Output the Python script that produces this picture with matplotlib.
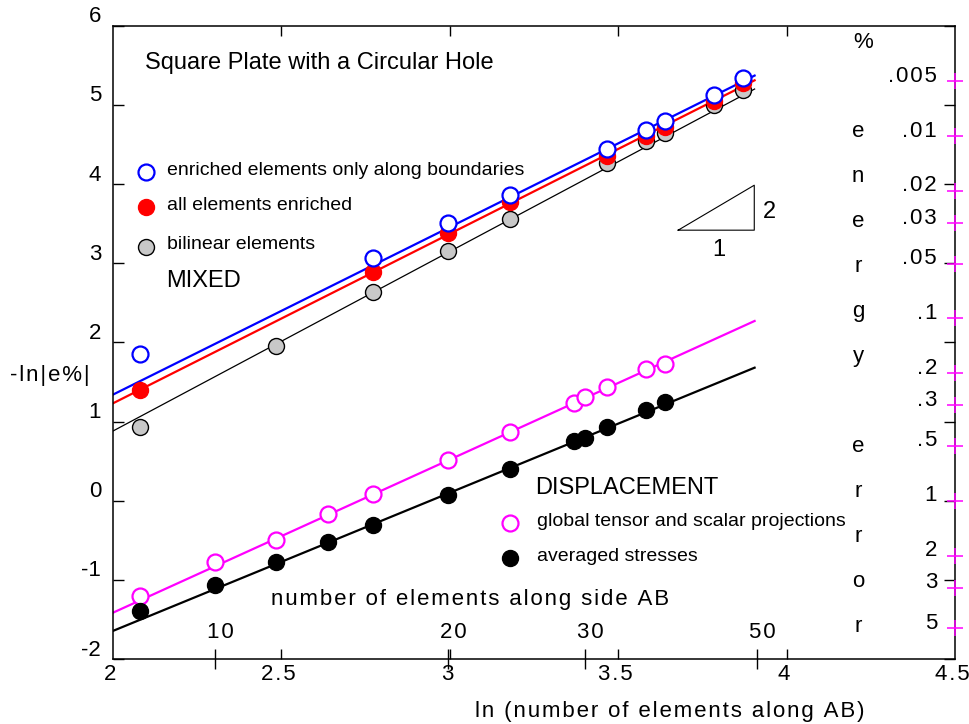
import numpy as np
import matplotlib
matplotlib.use("Agg")
import matplotlib.pyplot as plt

plt.rcParams['font.family'] = ['Liberation Sans', 'DejaVu Sans']

# MIXED results (x = ln N)
n_mixed = [8, 16, 20, 24, 32, 36, 38, 44, 48]
blue_y = [1.85, 3.07, 3.51, 3.86, 4.44, 4.68, 4.80, 5.12, 5.34]
red_y = [1.40, 2.89, 3.38, 3.77, 4.35, 4.61, 4.72, 5.05, 5.27]
n_gray = [8, 12, 16, 20, 24, 32, 36, 38, 44, 48]
gray_y = [0.93, 1.96, 2.64, 3.16, 3.56, 4.27, 4.54, 4.65, 5.00, 5.19]

# DISPLACEMENT results
n_disp = [8, 10, 12, 14, 16, 20, 24, 29, 30, 32, 36, 38]
mag_y = [-1.20, -0.78, -0.50, -0.17, 0.09, 0.52, 0.87, 1.24, 1.31, 1.43, 1.66, 1.73]
blk_y = [-1.39, -1.06, -0.78, -0.52, -0.31, 0.07, 0.40, 0.76, 0.79, 0.93, 1.15, 1.25]

# fitted lines (end points)
fit_x = [2.0, 3.905]
blue_fit = [1.34, 5.37]
red_fit = [1.23, 5.31]
gray_fit = [0.88, 5.20]
mag_fit = [-1.415, 2.27]
blk_fit = [-1.645, 1.68]

# slope triangle
tri_x = [3.678, 3.904, 3.904, 3.678]
tri_y = [3.417, 3.417, 3.985, 3.417]

xticks = [2, 2.5, 3, 3.5, 4, 4.5]
xtick_labels = ["2", "2.5", "3", "3.5", "4", "4.5"]
yticks = [-2, -1, 0, 1, 2, 3, 4, 5, 6]
n_ticks = [10, 20, 30, 50]
err_pct = [0.005, 0.01, 0.02, 0.03, 0.05, 0.1, 0.2, 0.3, 0.5, 1, 2, 3, 5]
err_labels = [".005", ".01", ".02", ".03", ".05", ".1", ".2", ".3", ".5", "1", "2", "3", "5"]


def spaced(s):
    return "\u200a".join(s)


fig = plt.figure(figsize=(9.69, 7.24), dpi=100)
ax = fig.add_axes([113 / 969, 1 - 659 / 724, 842 / 969, 633.3 / 724])
ax.set_xlim(2, 4.5)
ax.set_ylim(-2, 6)
for sp in ax.spines.values():
    sp.set_linewidth(1.1)

ax.set_xticks(xticks[1:-1])
ax.set_yticks(yticks)
ax.tick_params(axis='x', direction='in', length=7, width=1, top=True, labelbottom=False)
ax.tick_params(axis='y', direction='in', length=8, width=1, right=True, labelleft=False)

tsize = 16
for v, lab in zip(xticks, xtick_labels):
    ax.annotate(spaced(lab), (v, -2), xytext=(-3, -15), textcoords='offset pixels',
                ha='center', va='center', fontsize=tsize, annotation_clip=False)
for v in yticks:
    ax.annotate(str(v), (2, v), xytext=(-12, 9), textcoords='offset pixels',
                ha='right', va='center', fontsize=tsize, annotation_clip=False)

# number of elements axis
sec = ax.secondary_xaxis('bottom', functions=(np.exp, np.log))
sec.set_xticks(n_ticks)
sec.tick_params(direction='inout', length=15, width=1, labelbottom=False)
sec.spines['bottom'].set_visible(False)
for n in n_ticks:
    ax.annotate(spaced(str(n)), (np.log(n), -2), xytext=(5, 26), textcoords='offset pixels',
                ha='center', va='center', fontsize=tsize)
ax.text(0.424, 0.0947, spaced("number of elements along side AB"), transform=ax.transAxes,
        ha='center', va='center', fontsize=tsize)

# energy error axis on the right
ev = -np.log(err_pct)
ax.plot(np.full(len(ev), 4.5), ev, ls='none', marker='+', ms=11.5, mew=1.1,
        color='magenta', clip_on=False, zorder=5)
for v, lab in zip(ev, err_labels):
    ax.annotate(spaced(lab), (4.5, v), xytext=(-18, 5), textcoords='offset pixels',
                ha='right', va='center', fontsize=tsize, annotation_clip=False)
fig.text(863 / 969, 1 - 42 / 724, "%", ha='center', va='center', fontsize=tsize)
rows = "energy error"
for i, ch in enumerate(rows):
    if ch == " ":
        continue
    fig.text(858 / 969, 1 - (137 + 45 * i) / 724, ch, ha='center', va='baseline', fontsize=tsize)

# MIXED
ax.plot(fit_x, gray_fit, color='black', lw=0.9, zorder=2)
ax.plot(np.log(n_gray), gray_y, ls='none', marker='o', ms=11.5, mfc='#c8c8c8', mec='black', mew=1.0, zorder=3)
ax.plot(fit_x, red_fit, color='red', lw=1.6, zorder=2)
ax.plot(np.log(n_mixed), red_y, ls='none', marker='o', ms=11.5, mfc='red', mec='red', zorder=4)
ax.plot(fit_x, blue_fit, color='blue', lw=1.6, zorder=2)
ax.plot(np.log(n_mixed), blue_y, ls='none', marker='o', ms=11.5, mfc='white', mec='blue', mew=1.6, zorder=5)

# DISPLACEMENT
ax.plot(fit_x, mag_fit, color='magenta', lw=1.6, zorder=2)
ax.plot(np.log(n_disp), mag_y, ls='none', marker='o', ms=11.5, mfc='white', mec='magenta', mew=1.6, zorder=4)
ax.plot(fit_x, blk_fit, color='black', lw=1.6, zorder=2)
ax.plot(np.log(n_disp), blk_y, ls='none', marker='o', ms=11.5, mfc='black', mec='black', zorder=4)

# slope triangle
ax.plot(tri_x, tri_y, color='black', lw=0.8)
ax.text(3.948, 3.644, "2", ha='center', va='center', fontsize=17)
ax.text(3.799, 3.164, "1", ha='center', va='center', fontsize=17)

# annotations / legend
ax.text(0.038, 0.941, "Square Plate with a Circular Hole", transform=ax.transAxes,
        ha='left', va='center', fontsize=17)
lx, tx = 0.0392, 0.0641
ax.plot([lx], [0.769], transform=ax.transAxes, marker='o', ms=11.5, mfc='white', mec='blue', mew=1.6)
ax.text(tx, 0.771, "enriched elements only along boundaries", transform=ax.transAxes, va='center', fontsize=14)
ax.plot([lx], [0.714], transform=ax.transAxes, marker='o', ms=11.5, mfc='red', mec='red')
ax.text(tx, 0.716, "all elements enriched", transform=ax.transAxes, va='center', fontsize=14)
ax.plot([lx], [0.651], transform=ax.transAxes, marker='o', ms=11.5, mfc='#c8c8c8', mec='black', mew=1.0)
ax.text(tx, 0.654, "bilinear elements", transform=ax.transAxes, va='center', fontsize=14)
ax.text(0.063, 0.597, "MIXED", transform=ax.transAxes, va='center', fontsize=17)

ax.text(0.501, 0.270, "DISPLACEMENT", transform=ax.transAxes, va='center', fontsize=17)
ax.plot([0.4715], [0.2147], transform=ax.transAxes, marker='o', ms=11.5, mfc='white', mec='magenta', mew=1.6)
ax.text(0.5036, 0.217, "global tensor and scalar projections", transform=ax.transAxes, va='center', fontsize=14)
ax.plot([0.4715], [0.159], transform=ax.transAxes, marker='o', ms=11.5, mfc='black', mec='black')
ax.text(0.5036, 0.162, "averaged stresses", transform=ax.transAxes, va='center', fontsize=14)

fig.text(670 / 969, 1 - 711 / 724, spaced("ln (number of elements along AB)"),
         ha='center', va='center', fontsize=tsize)
fig.text(10 / 969, 1 - 375 / 724, spaced("-ln|e%|"), ha='left', va='center', fontsize=tsize)

fig.savefig("out.png", dpi=100)
